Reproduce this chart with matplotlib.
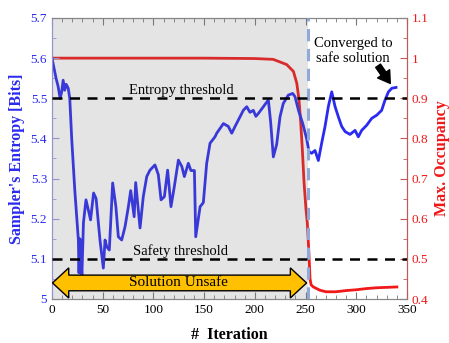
import matplotlib
matplotlib.use('Agg')
import matplotlib.pyplot as plt
from matplotlib.patches import Polygon
from matplotlib.ticker import MultipleLocator, FormatStrFormatter

# ── Data ────────────────────────────────────────────────────────────────────
entropy_iter = [
    0, 2, 4, 6, 8, 9.5, 11, 12.5, 14, 16, 17.5, 19.5, 22.5, 26, 26.6, 27.5,
    28.5, 29.5, 31, 33.5, 36, 38, 41, 43.5, 45.7, 47.3, 50.6, 52.3, 54, 56.5,
    59.8, 63, 65.4, 68.7, 72, 75.3, 77.6, 81, 82.5, 86.8, 90, 93.4, 96.6,
    101.5, 104.8, 107.5, 110.8, 114, 117.3, 120.6, 124.6, 128, 130.5, 134.4,
    137, 140.4, 141.7, 146, 149.2, 152.5, 155.8, 160.7, 162.4, 169, 173.8,
    177.2, 180.5, 185.4, 188.6, 192, 195.2, 198.5, 201, 203.4, 208.4, 213.3,
    215.6, 218.2, 221.5, 224.8, 228, 233, 237.3, 239.6, 243, 247.2, 251,
    253.4, 256, 259.3, 262.6, 266, 269.2, 272.5, 275.8, 279, 282.3, 285.6,
    289, 293.8, 298.8, 302, 305.3, 310.3, 315.2, 320.2, 325, 328.4, 331.7,
    335, 339.2,
]
entropy_bits = [
    5.600, 5.575, 5.550, 5.530, 5.500, 5.515, 5.545, 5.520, 5.535, 5.525,
    5.500, 5.396, 5.270, 5.147, 5.065, 5.150, 5.100, 5.060, 5.190, 5.247,
    5.220, 5.197, 5.264, 5.250, 5.190, 5.147, 5.077, 5.147, 5.130, 5.122,
    5.289, 5.230, 5.155, 5.147, 5.180, 5.230, 5.270, 5.205, 5.290, 5.177,
    5.255, 5.305, 5.321, 5.334, 5.310, 5.247, 5.255, 5.321, 5.230, 5.280,
    5.346, 5.330, 5.305, 5.338, 5.320, 5.320, 5.155, 5.230, 5.240, 5.338,
    5.388, 5.404, 5.413, 5.437, 5.430, 5.413, 5.430, 5.454, 5.470, 5.479,
    5.465, 5.470, 5.455, 5.462, 5.479, 5.496, 5.440, 5.354, 5.385, 5.454,
    5.487, 5.508, 5.512, 5.504, 5.470, 5.437, 5.400, 5.367, 5.363, 5.370,
    5.345, 5.390, 5.430, 5.480, 5.516, 5.480, 5.454, 5.430, 5.417, 5.410,
    5.420, 5.404, 5.420, 5.433, 5.450, 5.458, 5.470, 5.496, 5.516, 5.525,
    5.527,
]

occ_iter = [
    0, 50, 100, 150, 200, 218, 231.4, 238, 241.3, 243.5, 245.2, 246.8,
    248.5, 250.4, 251.7, 253.1, 254.4, 255.5, 257.7, 264, 270, 280, 290,
    300, 310, 320, 330, 340,
]
max_occupancy = [
    1.0, 1.0, 1.0, 1.0, 0.999, 0.997, 0.984, 0.967, 0.938, 0.897, 0.84,
    0.773, 0.69, 0.624, 0.59, 0.524, 0.45, 0.435, 0.43, 0.422, 0.418, 0.418,
    0.421, 0.423, 0.426, 0.428, 0.429, 0.43,
]

ENTROPY_THRESHOLD = 5.5
SAFETY_THRESHOLD = 5.1
SAFE_FROM_ITER = 252.5

BLUE = '#2a2af0'
RED = '#f01818'

plt.rcParams['font.family'] = ['Liberation Serif', 'DejaVu Serif']

fig = plt.figure(figsize=(4.49, 3.43), dpi=100)
ax = fig.add_axes([52 / 449, 44 / 343, 355 / 449, 281 / 343])
ax2 = ax.twinx()
ax.set_zorder(ax2.get_zorder() + 1)
ax.patch.set_visible(False)

ax2.plot(occ_iter, max_occupancy, color=RED, lw=2.0, zorder=2)
ax.plot(entropy_iter, entropy_bits, color=BLUE, lw=2.0, zorder=2)

# unsafe region shading, laid over both curves so they look washed out
ax.axvspan(0, SAFE_FROM_ITER - 0.5, color='#7a7a7a', alpha=0.2, lw=0, zorder=3)
ax.axvline(SAFE_FROM_ITER, color='#8faad8', lw=2.2, ls=(0, (4, 2.5)), zorder=4)

# thresholds
ax.axhline(ENTROPY_THRESHOLD, color='black', lw=1.8, ls=(0, (4, 3)), zorder=5)
ax.axhline(SAFETY_THRESHOLD, color='black', lw=1.8, ls=(0, (4, 3)), zorder=5)

ax.text(127, ENTROPY_THRESHOLD + 0.01, 'Entropy threshold', ha='center',
        va='baseline', fontsize=10.5, zorder=6)
ax.text(127, SAFETY_THRESHOLD + 0.01, 'Safety threshold', ha='center',
        va='baseline', fontsize=10.5, zorder=6)

# double-headed "Solution Unsafe" arrow
arr_x0, arr_x1, arr_yc = 0.5, 251, 5.040
shaft_h, head_h, head_len = 0.0195, 0.0375, 16
arrow_pts = [
    (arr_x0, arr_yc),
    (arr_x0 + head_len, arr_yc + head_h),
    (arr_x0 + head_len, arr_yc + shaft_h),
    (arr_x1 - head_len, arr_yc + shaft_h),
    (arr_x1 - head_len, arr_yc + head_h),
    (arr_x1, arr_yc),
    (arr_x1 - head_len, arr_yc - head_h),
    (arr_x1 - head_len, arr_yc - shaft_h),
    (arr_x0 + head_len, arr_yc - shaft_h),
    (arr_x0 + head_len, arr_yc - head_h),
]
ax.add_patch(Polygon(arrow_pts, closed=True, fc='#ffc000', ec='black',
                     lw=1.0, zorder=6))
ax.text(125, arr_yc, 'Solution Unsafe', ha='center', va='center',
        fontsize=11, zorder=7)

ax.text(297, 5.618, 'Converged to\nsafe solution', ha='center', va='center',
        fontsize=10.5, linespacing=1.15, zorder=7)
ax.annotate('', xy=(333.5, 5.537), xytext=(321.5, 5.581),
            arrowprops=dict(arrowstyle='simple,head_length=0.6,head_width=0.75,tail_width=0.3',
                            mutation_scale=14, shrinkA=0, shrinkB=0,
                            fc='black', ec='black'),
            zorder=7)

# axes
ax.set_xlim(0, 350)
ax.set_ylim(5.0, 5.7)
ax2.set_ylim(0.4, 1.1)

ax.xaxis.set_major_locator(MultipleLocator(50))
ax.xaxis.set_minor_locator(MultipleLocator(10))
ax.yaxis.set_major_locator(MultipleLocator(0.1))
ax.yaxis.set_minor_locator(MultipleLocator(0.05))
ax2.yaxis.set_major_locator(MultipleLocator(0.1))
ax2.yaxis.set_minor_locator(MultipleLocator(0.05))
ax.yaxis.set_major_formatter(FormatStrFormatter('%g'))
ax2.yaxis.set_major_formatter(FormatStrFormatter('%g'))

ax.tick_params(axis='x', which='both', direction='in', top=True,
               colors='#777777', labelcolor='black', labelsize=9.5)
ax.tick_params(axis='x', which='major', length=5)
ax.tick_params(axis='x', which='minor', length=3)
ax.tick_params(axis='y', which='both', direction='in', left=True, right=False,
               colors='#9a9ae6', labelcolor=BLUE, labelsize=9.5)
ax.tick_params(axis='y', which='major', length=5)
ax.tick_params(axis='y', which='minor', length=3)
ax2.tick_params(axis='y', which='both', direction='in', colors='#c05a5a',
                labelcolor=RED, labelsize=9.5)
ax2.tick_params(axis='y', which='major', length=5)
ax2.tick_params(axis='y', which='minor', length=3)
ax2.tick_params(axis='x', which='both', top=False, bottom=False)

for a in (ax, ax2):
    a.spines['top'].set_color('#888888')
    a.spines['bottom'].set_color('#888888')
    a.spines['left'].set_color('#9a9ae6')
    a.spines['right'].set_color('#c05a5a')

ax.set_xlabel('#  Iteration', fontsize=11.5, fontweight='bold', labelpad=8)
ax.set_ylabel("Sampler's Entropy [Bits]", fontsize=11.5, fontweight='bold',
              color=BLUE, labelpad=4)
ax2.set_ylabel('Max. Occupancy', fontsize=11.5, fontweight='bold',
               color=RED, labelpad=4)

fig.savefig('out.png', dpi=100)
